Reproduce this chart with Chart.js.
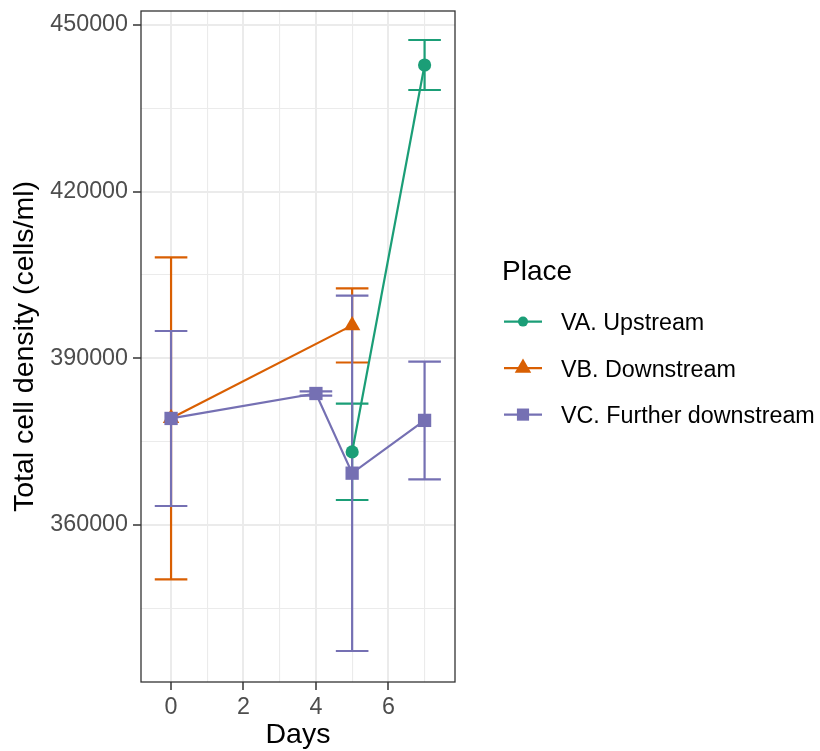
<!DOCTYPE html>
<html>
<head>
<meta charset="utf-8">
<script src="https://cdn.jsdelivr.net/npm/chart.js@4.4.1/dist/chart.umd.min.js"></script>
<style>
  html, body { margin: 0; padding: 0; background: #fff; }
  #wrap { width: 820px; height: 751px; }
</style>
</head>
<body>
<div id="wrap"><canvas id="chart" width="820" height="751"></canvas></div>
<script>
// data (mean with lower / upper error bar ends)
const SERIES_NAMES = ['VA. Upstream', 'VB. Downstream', 'VC. Further downstream'];

const VA_DAYS = [5, 7];
const VA_MEAN = [373150, 442800];
const VA_LOW = [364500, 438300];
const VA_HIGH = [381830, 447300];

const VB_DAYS = [0, 5];
const VB_MEAN = [379200, 395930];
const VB_LOW = [350230, 389250];
const VB_HIGH = [408190, 402600];

const VC_DAYS = [0, 4, 5, 7];
const VC_MEAN = [379180, 383670, 369330, 378830];
const VC_LOW = [363420, 383300, 337320, 368230];
const VC_HIGH = [394920, 384040, 401270, 389390];

// major ticks carry labels, minor ones only a grid line
const X_TICKS = [0, 2, 4, 6];
const X_MINOR = [1, 3, 5, 7];
const Y_TICKS = [360000, 390000, 420000, 450000];
const Y_MINOR = [345000, 375000, 405000, 435000];

const COLORS = ['#1B9E77', '#D95F02', '#7570B3'];
const POINT_STYLES = ['circle', 'triangle', 'rect'];
const POINT_RADII = [6.6, 9.5, 9.4];
const FONT = '"Liberation Sans", Arial, Helvetica, sans-serif';
const ERR_WIDTH = 0.9;

function toPoints (days, values) {
  return days.map((d, i) => ({ x: d, y: values[i] }))
}

// vertical bar + two caps per point, nulls break the line between pieces
function errorBarPoints (days, low, high) {
  let pts = []
  days.forEach((d, i) => {
    pts.push({ x: d, y: low[i] }, { x: d, y: high[i] }, { x: d, y: null })
    pts.push({ x: d - ERR_WIDTH / 2, y: high[i] }, { x: d + ERR_WIDTH / 2, y: high[i] }, { x: d, y: null })
    pts.push({ x: d - ERR_WIDTH / 2, y: low[i] }, { x: d + ERR_WIDTH / 2, y: low[i] }, { x: d, y: null })
  })
  return pts
}

function errorDataset (days, low, high, color, order) {
  return {
    data: errorBarPoints(days, low, high),
    borderColor: color,
    borderWidth: 2.2,
    pointRadius: 0,
    spanGaps: false,
    order
  }
}

function lineDataset (days, mean, idx, order) {
  return {
    label: SERIES_NAMES[idx],
    data: toPoints(days, mean),
    borderColor: COLORS[idx],
    backgroundColor: COLORS[idx],
    pointBackgroundColor: COLORS[idx],
    pointBorderWidth: 0,
    pointStyle: POINT_STYLES[idx],
    pointRadius: POINT_RADII[idx],
    borderWidth: 2.2,
    tension: 0,
    order
  }
}

function setTicks (major, minor) {
  return scale => {
    scale.ticks = major.concat(minor).sort((a, b) => a - b).map(v => ({ value: v }))
  }
}

const isMajorX = v => X_TICKS.includes(v);
const isMajorY = v => Y_TICKS.includes(v);

function drawMarker (ctx, style, x, y, r) {
  ctx.beginPath()
  if (style === 'circle') {
    ctx.arc(x, y, r, 0, Math.PI * 2)
  } else if (style === 'triangle') {
    for (let k = 0; k < 3; k++) {
      let a = k * 2 * Math.PI / 3
      let px = x + Math.sin(a) * r, py = y - Math.cos(a) * r
      k === 0 ? ctx.moveTo(px, py) : ctx.lineTo(px, py)
    }
    ctx.closePath()
  } else {
    let s = r * Math.SQRT1_2
    ctx.rect(x - s, y - s, 2 * s, 2 * s)
  }
  ctx.fill()
}

const panelBorder = {
  id: 'panelBorder',
  afterDatasetsDraw (chart) {
    const { ctx, chartArea: a } = chart
    ctx.save()
    ctx.strokeStyle = '#333333'
    ctx.lineWidth = 1.3
    ctx.strokeRect(a.left, a.top, a.right - a.left, a.bottom - a.top)
    ctx.restore()
  }
}

const placeLegend = {
  id: 'placeLegend',
  afterDraw (chart) {
    const ctx = chart.ctx
    ctx.save()
    ctx.fillStyle = '#000000'
    ctx.textBaseline = 'alphabetic'
    ctx.textAlign = 'left'
    ctx.font = `28px ${FONT}`
    ctx.fillText('Place', 502, 279.5)
    ctx.font = `23.3px ${FONT}`
    const baselines = [330, 376.5, 423]
    SERIES_NAMES.forEach((name, i) => {
      let cy = baselines[i] - 8.4
      ctx.strokeStyle = COLORS[i]
      ctx.fillStyle = COLORS[i]
      ctx.lineWidth = 2.2
      ctx.beginPath()
      ctx.moveTo(504, cy)
      ctx.lineTo(542, cy)
      ctx.stroke()
      drawMarker(ctx, POINT_STYLES[i], 523, cy, [5, 9.5, 8.6][i])
      ctx.fillStyle = '#000000'
      ctx.fillText(name, 561, baselines[i])
    })
    ctx.restore()
  }
}

function zeroPadding (scale) {
  scale.paddingTop = 0
  scale.paddingBottom = 0
  scale.paddingLeft = 0
  scale.paddingRight = 0
}

const ctx = document.getElementById('chart').getContext('2d')
const chart = new Chart(ctx, {
  type: 'line',
  data: {
    datasets: [
      errorDataset(VA_DAYS, VA_LOW, VA_HIGH, COLORS[0], 6),
      errorDataset(VB_DAYS, VB_LOW, VB_HIGH, COLORS[1], 5),
      errorDataset(VC_DAYS, VC_LOW, VC_HIGH, COLORS[2], 4),
      lineDataset(VA_DAYS, VA_MEAN, 0, 3),
      lineDataset(VB_DAYS, VB_MEAN, 1, 2),
      lineDataset(VC_DAYS, VC_MEAN, 2, 1)
    ]
  },
  options: {
    responsive: false,
    animation: false,
    devicePixelRatio: 1,
    layout: { padding: { top: 11, right: 365, bottom: 0, left: 0 } },
    plugins: {
      legend: { display: false },
      tooltip: { enabled: false }
    },
    scales: {
      x: {
        type: 'linear',
        min: -0.83,
        max: 7.84,
        afterBuildTicks: setTicks(X_TICKS, X_MINOR),
        afterFit (scale) { scale.height = 69; zeroPadding(scale) },
        border: { display: false },
        grid: {
          color: '#EBEBEB',
          lineWidth: c => isMajorX(c.tick.value) ? 2 : 1.1,
          tickColor: c => isMajorX(c.tick.value) ? '#333333' : 'rgba(0,0,0,0)',
          tickLength: 8,
          tickWidth: 1.5
        },
        ticks: {
          autoSkip: false,
          maxRotation: 0,
          padding: 4,
          color: '#4D4D4D',
          font: { family: FONT, size: 23.3 },
          callback: v => isMajorX(v) ? String(v) : ''
        },
        title: {
          display: true,
          text: 'Days',
          color: '#000000',
          font: { family: FONT, size: 28.5, lineHeight: 1 },
          padding: { top: 0, bottom: 2 }
        }
      },
      y: {
        min: 331740,
        max: 452520,
        afterBuildTicks: setTicks(Y_TICKS, Y_MINOR),
        afterFit (scale) { scale.width = 141; zeroPadding(scale) },
        border: { display: false },
        grid: {
          color: '#EBEBEB',
          lineWidth: c => isMajorY(c.tick.value) ? 2 : 1.1,
          tickColor: c => isMajorY(c.tick.value) ? '#333333' : 'rgba(0,0,0,0)',
          tickLength: 8,
          tickWidth: 1.5
        },
        ticks: {
          autoSkip: false,
          padding: 5,
          color: '#4D4D4D',
          font: { family: FONT, size: 23.3 },
          callback: v => isMajorY(v) ? String(v) : ''
        },
        title: {
          display: true,
          text: 'Total cell density (cells/ml)',
          color: '#000000',
          font: { family: FONT, size: 28.5, lineHeight: 1 },
          padding: { top: 11, bottom: 0 }
        }
      }
    }
  },
  plugins: [panelBorder, placeLegend]
})
</script>
</body>
</html>
